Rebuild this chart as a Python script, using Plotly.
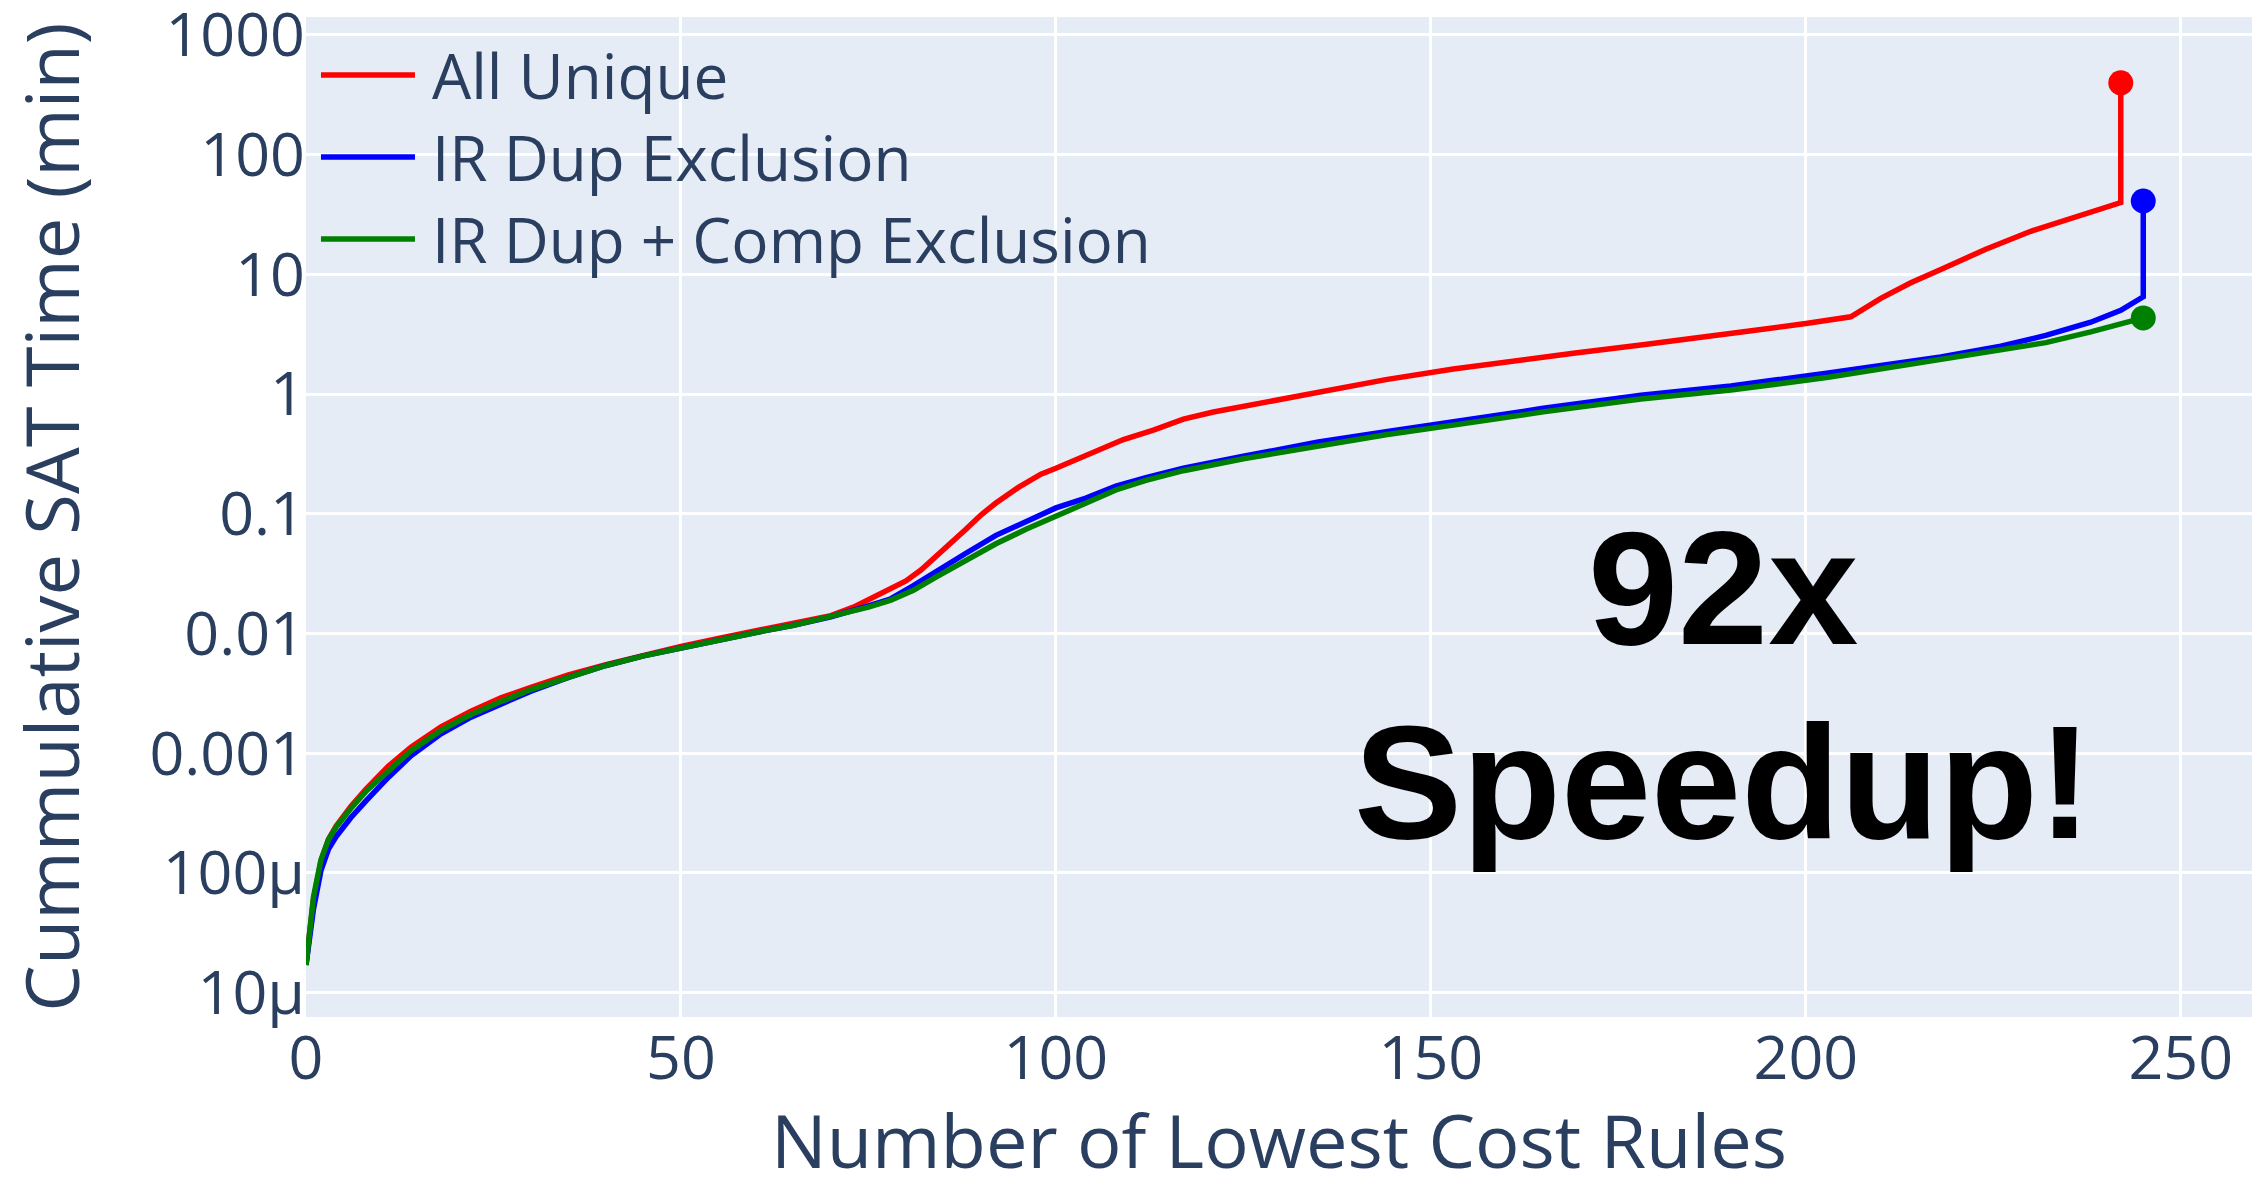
import plotly.graph_objects as go

# Cumulative SAT solving time (minutes) versus the number of lowest-cost rules
rules_all = [0, 1, 2, 3, 4, 6, 8, 11, 14, 18, 22, 26, 30, 35, 40, 45, 50, 55, 60, 65, 70,
             73, 77, 80, 82, 84, 86, 88, 90, 92, 95, 98, 100, 103, 106, 109, 113, 117, 121,
             126, 135, 144, 153, 160, 169, 178, 186, 193, 200, 206, 210, 214, 218, 224, 230,
             236, 242, 242]
time_all = [1.7e-5, 6.0e-5, 1.26e-4, 1.9e-4, 2.45e-4, 3.6e-4, 5.0e-4, 7.8e-4, 1.12e-3, 1.66e-3,
            2.24e-3, 2.9e-3, 3.55e-3, 4.5e-3, 5.5e-3, 6.6e-3, 7.8e-3, 9.1e-3, 0.0105, 0.012,
            0.0141, 0.0166, 0.0219, 0.0275, 0.0339, 0.0437, 0.0575, 0.0741, 0.0977, 0.123,
            0.166, 0.214, 0.24, 0.288, 0.347, 0.417, 0.5, 0.617, 0.708, 0.813, 1.05, 1.32,
            1.62, 1.86, 2.19, 2.57, 2.95, 3.39, 3.89, 4.42, 6.3, 8.5, 11.0, 16.2, 22.9, 30.2,
            39.8, 398]

rules_dup = [0, 1, 2, 3, 4, 6, 8, 11, 14, 18, 22, 26, 30, 35, 40, 45, 50, 55, 60, 65, 70, 75,
             78, 81, 84, 88, 92, 96, 100, 104, 108, 112, 117, 125, 135, 144, 153, 165, 178,
             190, 203, 210, 218, 226, 232, 238, 242, 245, 245]
time_dup = [1.7e-5, 5.0e-5, 1.05e-4, 1.58e-4, 2.0e-4, 2.9e-4, 4.0e-4, 6.3e-4, 9.5e-4, 1.45e-3,
            2.0e-3, 2.6e-3, 3.3e-3, 4.3e-3, 5.4e-3, 6.5e-3, 7.6e-3, 8.9e-3, 0.0102, 0.0117,
            0.0138, 0.017, 0.0195, 0.0251, 0.0324, 0.0468, 0.066, 0.087, 0.112, 0.135, 0.17,
            0.2, 0.24, 0.302, 0.398, 0.484, 0.589, 0.76, 0.98, 1.17, 1.5, 1.74, 2.04, 2.51,
            3.09, 3.98, 5.0, 6.5, 41]

rules_dup_comp = [0, 1, 2, 3, 4, 6, 8, 11, 14, 18, 22, 26, 30, 35, 40, 45, 50, 55, 60, 65, 70,
                  75, 78, 81, 84, 88, 92, 96, 100, 104, 108, 112, 117, 125, 135, 144, 153, 165,
                  178, 190, 203, 210, 218, 226, 232, 238, 242, 245]
time_dup_comp = [1.7e-5, 6.3e-5, 1.29e-4, 1.9e-4, 2.4e-4, 3.47e-4, 4.8e-4, 7.2e-4, 1.05e-3,
                 1.55e-3, 2.1e-3, 2.7e-3, 3.4e-3, 4.3e-3, 5.4e-3, 6.5e-3, 7.6e-3, 8.9e-3,
                 0.0102, 0.0117, 0.0138, 0.0166, 0.019, 0.0229, 0.0295, 0.0407, 0.0562, 0.0741,
                 0.0955, 0.123, 0.158, 0.19, 0.229, 0.288, 0.372, 0.457, 0.55, 0.71, 0.91,
                 1.08, 1.38, 1.62, 1.93, 2.29, 2.69, 3.31, 3.8, 4.33]

series_names = ["All Unique", "IR Dup Exclusion", "IR Dup + Comp Exclusion"]
series_colors = ["red", "blue", "green"]
series_x = [rules_all, rules_dup, rules_dup_comp]
series_y = [time_all, time_dup, time_dup_comp]

x_tickvals = [0, 50, 100, 150, 200, 250]
y_tickvals = [1e-5, 1e-4, 1e-3, 0.01, 0.1, 1, 10, 100, 1000]
y_ticktext = ["10µ", "100µ", "0.001", "0.01", "0.1", "1", "10", "100", "1000"]

speedup_lines = ["92x", "Speedup!"]

TEXT_COLOR = "#2a3f5f"
FONT = "Open Sans, Arial, sans-serif"

fig = go.Figure()

for name, color, xs, ys in zip(series_names, series_colors, series_x, series_y):
    fig.add_trace(go.Scatter(
        x=xs, y=ys, mode="lines", name=name,
        line=dict(color=color, width=5.5),
        showlegend=False,
    ))
    # final cumulative time marked with a dot
    fig.add_trace(go.Scatter(
        x=[xs[-1]], y=[ys[-1]], mode="markers", name=name,
        marker=dict(color=color, size=25),
        showlegend=False,
    ))

# legend drawn in the upper-left corner of the plot area
legend_y = [0.942, 0.860, 0.778]
for name, color, ly in zip(series_names, series_colors, legend_y):
    fig.add_shape(type="line", xref="paper", yref="paper",
                  x0=0.0077, x1=0.056, y0=ly, y1=ly,
                  line=dict(color=color, width=5.5))
    fig.add_annotation(text=name, xref="paper", yref="paper",
                       x=0.0637, y=ly, xanchor="left", yanchor="middle",
                       showarrow=False,
                       font=dict(family=FONT, size=62, color=TEXT_COLOR))

for txt, ty in zip(speedup_lines, [0.430, 0.236]):
    fig.add_annotation(text="<b>" + txt + "</b>", xref="paper", yref="paper",
                       x=0.728, y=ty, xanchor="center", yanchor="middle",
                       showarrow=False,
                       font=dict(family="Liberation Sans, Arial, Helvetica, sans-serif",
                                 size=162, color="black"))

fig.update_layout(
    width=2252, height=1190,
    margin=dict(l=306, r=0, t=17, b=173),
    paper_bgcolor="white",
    plot_bgcolor="#E5ECF6",
    font=dict(family=FONT, color=TEXT_COLOR),
    showlegend=False,
)

fig.update_xaxes(
    range=[0, 259.5],
    automargin=False,
    tickvals=x_tickvals,
    tickfont=dict(size=61, color=TEXT_COLOR),
    gridcolor="white", gridwidth=3,
    zeroline=False, showline=False, ticks="",
    title=dict(text="Number of Lowest Cost Rules",
               font=dict(size=74, color=TEXT_COLOR), standoff=88),
)
fig.update_yaxes(
    type="log",
    range=[-5.204, 3.150],
    automargin=False,
    tickvals=y_tickvals, ticktext=y_ticktext,
    tickfont=dict(size=61, color=TEXT_COLOR),
    ticklabeloverflow="allow",
    gridcolor="white", gridwidth=3,
    zeroline=False, showline=False, ticks="",
    title=dict(text="Cummulative SAT Time (min)",
               font=dict(size=74, color=TEXT_COLOR), standoff=48),
)

fig.write_html("out.html")
